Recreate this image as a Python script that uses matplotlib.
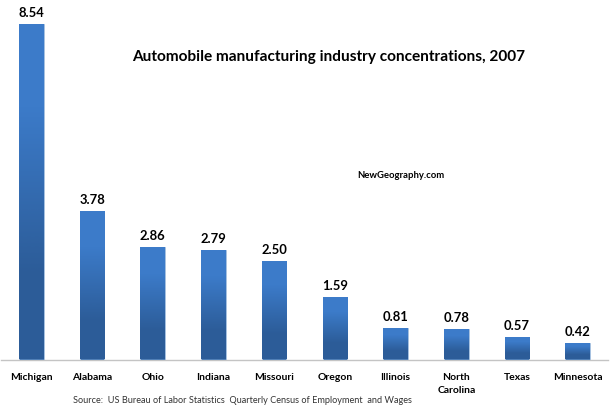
import matplotlib
matplotlib.use('Agg')
import matplotlib.pyplot as plt
import numpy as np

states = ['Michigan', 'Alabama', 'Ohio', 'Indiana', 'Missouri', 'Oregon',
          'Illinois', 'North\nCarolina', 'Texas', 'Minnesota']
values = [8.54, 3.78, 2.86, 2.79, 2.50, 1.59, 0.81, 0.78, 0.57, 0.42]
value_labels = ['8.54', '3.78', '2.86', '2.79', '2.50', '1.59', '0.81', '0.78', '0.57', '0.42']

plt.rcParams['font.family'] = ['Lato', 'DejaVu Sans']

W, H = 615, 415
fig = plt.figure(figsize=(W / 100, H / 100), dpi=100)

# axes placed in pixels: baseline at y=359.5, 39.3 px per unit
left, right, base, top = 1, 608, 359.5, 4
ax = fig.add_axes([left / W, (H - base) / H, (right - left) / W, (base - top) / H])
ax.set_xlim(-0.5, 9.5)
ax.set_ylim(0, (base - top) / 39.3)

bars = ax.bar(range(len(values)), values, width=0.405, color='#3570b5',
              edgecolor='#a9c3e2', linewidth=0.6)

grad = np.array([[0.0], [1.0]])
cmap = matplotlib.colors.LinearSegmentedColormap.from_list('bar', ['#3c7bc9', '#2c5c98'])
for b in bars:
    im = ax.imshow(grad, extent=[b.get_x(), b.get_x() + b.get_width(), 0, b.get_height()],
                   cmap=cmap, aspect='auto', interpolation='bilinear', zorder=2.5)
    im.set_clip_path(b)
ax.set_xlim(-0.5, 9.5)
ax.set_ylim(0, (base - top) / 39.3)

for i, v in enumerate(values):
    ax.annotate(value_labels[i], (i, v), xytext=(0, 3.5), textcoords='offset points',
                ha='center', va='bottom', fontsize=9.4, fontweight='bold', color='#000000')

for s in ['top', 'left', 'right']:
    ax.spines[s].set_visible(False)
ax.spines['bottom'].set_color('#c4c4c4')
ax.spines['bottom'].set_linewidth(1.0)
ax.set_yticks([])
ax.set_xticks(range(len(states)))
ax.set_xticklabels(states, fontsize=7.5, fontweight='bold', color='#000000', linespacing=1.55)
ax.tick_params(axis='x', length=0, pad=9.5)

fig.text(328.5 / W, 1 - 57 / H, 'Automobile manufacturing industry concentrations, 2007',
         ha='center', va='center', fontsize=11.05, fontweight='bold', color='#000000')
fig.text(400.5 / W, 1 - 175 / H, 'NewGeography.com', ha='center', va='center',
         fontsize=6.85, fontweight='bold', color='#000000')
fig.text(73 / W, 1 - 400.5 / H, 'Source:  US Bureau of Labor Statistics  Quarterly Census of Employment  and Wages',
         ha='left', va='center', fontsize=6.55, color='#333333')

fig.savefig('out.png', dpi=100)
